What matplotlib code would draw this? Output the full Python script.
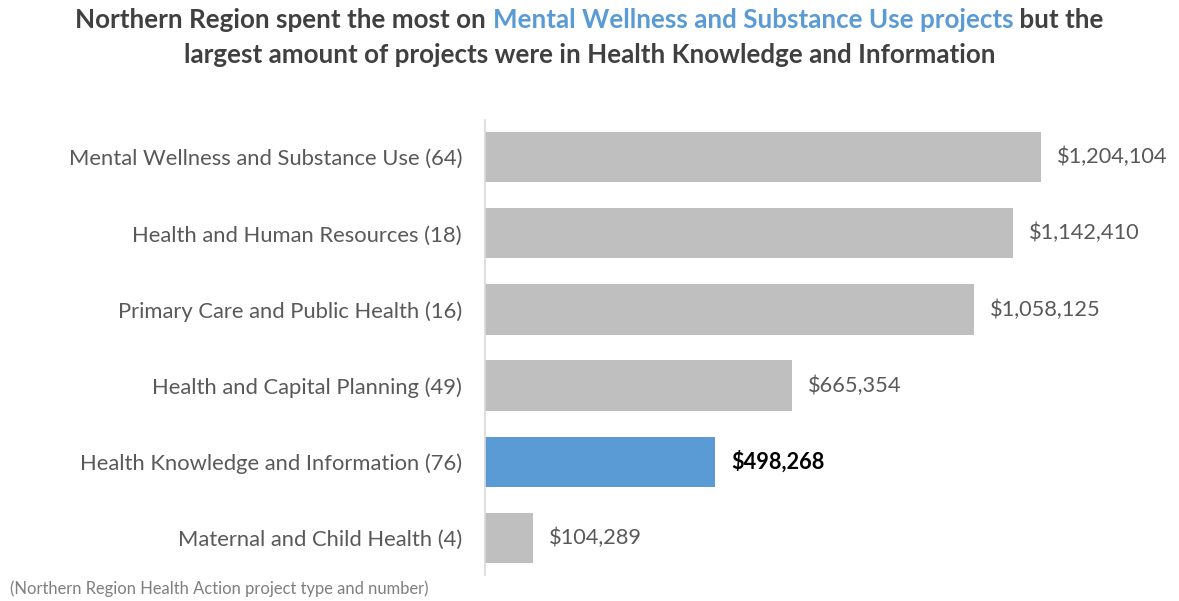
import matplotlib
matplotlib.use("Agg")
import matplotlib.pyplot as plt

categories = [
    "Mental Wellness and Substance Use (64)",
    "Health and Human Resources (18)",
    "Primary Care and Public Health (16)",
    "Health and Capital Planning (49)",
    "Health Knowledge and Information (76)",
    "Maternal and Child Health (4)",
]
spending = [1204104, 1142410, 1058125, 665354, 498268, 104289]
highlight = "Health Knowledge and Information (76)"

title_parts = [
    ("Northern Region spent the most on ", "#404040"),
    ("Mental Wellness and Substance Use projects", "#5B9BD5"),
    (" but the", "#404040"),
]
title_line2 = "largest amount of projects were in Health Knowledge and Information"
footnote = "(Northern Region Health Action project type and number)"

FONT = "Lato"
GREY_BAR = "#BFBFBF"
BLUE_BAR = "#5B9BD5"
TEXT_GREY = "#595959"

W, H = 1179, 601
fig = plt.figure(figsize=(W / 100, H / 100), dpi=100)
ax = fig.add_axes([485 / W, 1 - 575 / H, 1 - 485 / W, (575 - 120) / H])

ypos = list(range(len(categories)))
colors = [BLUE_BAR if c == highlight else GREY_BAR for c in categories]
bars = ax.barh(ypos, spending, height=0.66, color=colors)

ax.set_xlim(0, 1503000)
ax.set_ylim(5.49, -0.49)
ax.set_yticks(ypos)
ax.set_yticklabels(categories, fontsize=15.8, family=FONT, color=TEXT_GREY)
ax.tick_params(axis="y", length=0, pad=16.5)
ax.set_xticks([])
for s in ["top", "right", "bottom"]:
    ax.spines[s].set_visible(False)
ax.spines["left"].set_color("#D9D9D9")
ax.spines["left"].set_linewidth(1.2)

for cat, val, y in zip(categories, spending, ypos):
    hi = cat == highlight
    ax.annotate(f"${val:,.0f}", xy=(val, y), xytext=(16, 0),
                textcoords="offset pixels", va="center", ha="left",
                fontsize=15.7, family=FONT,
                fontweight="bold" if hi else "normal",
                color="#000000" if hi else TEXT_GREY)

# Two-tone title: measure each piece, then lay them out centred
fig.canvas.draw()
renderer = fig.canvas.get_renderer()
tsize = 18.7
widths = []
for txt, col in title_parts:
    t = fig.text(0, 0, txt, fontsize=tsize, family=FONT, fontweight="bold")
    widths.append(t.get_window_extent(renderer).width)
    t.remove()
x = (W - sum(widths)) / 2
for (txt, col), w in zip(title_parts, widths):
    fig.text(x / W, 1 - 20 / H, txt, fontsize=tsize, family=FONT,
             fontweight="bold", color=col, ha="left", va="center")
    x += w
fig.text(0.5, 1 - 55 / H, title_line2, fontsize=tsize, family=FONT,
         fontweight="bold", color="#404040", ha="center", va="center")

fig.text(10 / W, 1 - 589 / H, footnote, fontsize=11.9, family=FONT,
         color="#7F7F7F", ha="left", va="center")

fig.savefig("out.png", dpi=100)
